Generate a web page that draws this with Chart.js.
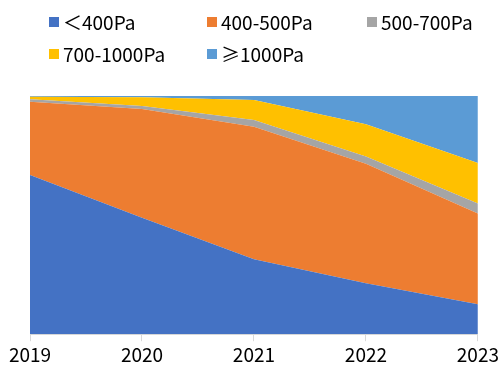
<!DOCTYPE html>
<html>
<head>
<meta charset="utf-8">
<script src="https://cdn.jsdelivr.net/npm/chart.js@4/dist/chart.umd.min.js"></script>
<style>
  html, body { margin: 0; padding: 0; background: #fff; }
  #wrap { width: 501px; height: 370px; }
</style>
</head>
<body>
<div id="wrap"><canvas id="c" width="501" height="370"></canvas></div>
<script>
// Share of each pressure band per year (%)
const years = ['2019', '2020', '2021', '2022', '2023'];
const below400 = [66.8, 48.9, 31.5, 21.4, 12.6];
const p400to500 = [30.8, 45.6, 55.6, 50.2, 38.1];
const p500to700 = [1.0, 1.3, 2.8, 3.0, 4.2];
const p700to1000 = [1.1, 3.7, 8.4, 13.5, 17.0];
const above1000 = [0.3, 0.5, 1.7, 11.9, 28.1];

const seriesNames = ['＜400Pa', '400-500Pa', '500-700Pa', '700-1000Pa', '≥1000Pa'];
const seriesData = [below400, p400to500, p500to700, p700to1000, above1000];
const seriesColors = ['#4472C4', '#ED7D31', '#A5A5A5', '#FFC000', '#5B9BD5'];

const FONT = '"Noto Sans CJK SC", "Noto Sans", sans-serif';

// Legend laid out as a fixed three-column grid above the plot
const gridLegend = {
  id: 'gridLegend',
  afterDraw(chart) {
    const ctx = chart.ctx;
    const cols = [49, 207, 367];
    const rows = [22, 54];
    ctx.save();
    ctx.font = '19px ' + FONT;
    ctx.textBaseline = 'middle';
    ctx.textAlign = 'left';
    chart.data.datasets.forEach((ds, i) => {
      const x = cols[i % 3];
      const y = rows[Math.floor(i / 3)];
      ctx.fillStyle = ds.backgroundColor;
      ctx.fillRect(x, y - 5, 10, 10);
      ctx.fillStyle = '#000';
      ctx.fillText(ds.label, x + 14, y + 1);
    });
    ctx.restore();
  }
};

new Chart(document.getElementById('c'), {
  type: 'line',
  data: {
    labels: years,
    datasets: seriesNames.map((name, i) => ({
      label: name,
      data: seriesData[i],
      backgroundColor: seriesColors[i],
      borderColor: seriesColors[i],
      borderWidth: 0,
      pointRadius: 0,
      tension: 0,
      fill: i === 0 ? 'origin' : '-1'
    }))
  },
  options: {
    responsive: false,
    animation: false,
    layout: { padding: { top: 96, left: 30, right: 2, bottom: 2 } },
    plugins: {
      legend: { display: false },
      tooltip: { enabled: false }
    },
    scales: {
      x: {
        offset: false,
        grid: {
          display: true,
          drawOnChartArea: false,
          drawTicks: true,
          tickLength: 7,
          color: '#D9D9D9'
        },
        border: { display: true, color: '#D9D9D9' },
        ticks: {
          color: '#000',
          font: { family: FONT, size: 19 },
          padding: 2,
          maxRotation: 0,
          autoSkip: false
        }
      },
      y: {
        display: false,
        stacked: true,
        min: 0,
        max: 100
      }
    }
  },
  plugins: [gridLegend]
});
</script>
</body>
</html>
